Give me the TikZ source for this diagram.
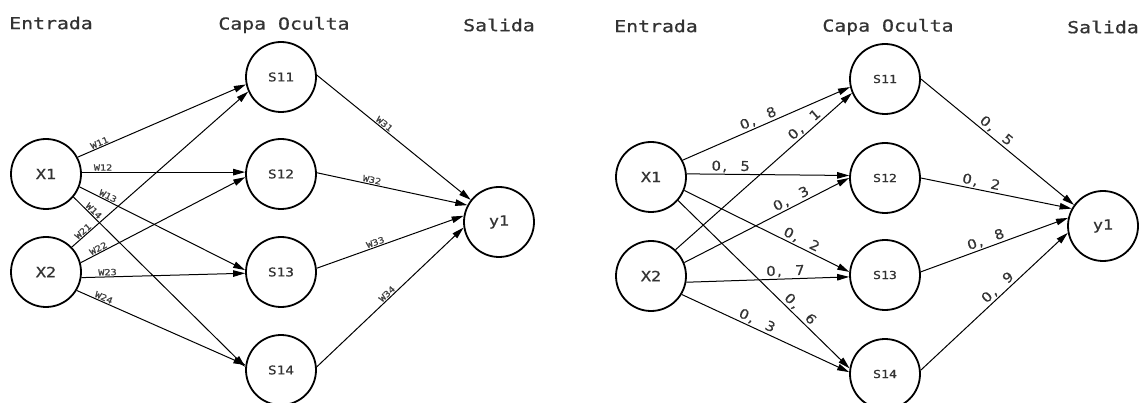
\documentclass[tikz,border=0pt]{standalone}
\usepackage{fontspec}
\newfontfamily\nnfont[FakeStretch=1.2,FakeBold=0.8]{DejaVu Sans Mono}
\newfontfamily\numfont[FakeStretch=1.1,FakeBold=0.6,LetterSpace=10,WordSpace=2.2]{DejaVu Sans}
\usetikzlibrary{arrows.meta}
\begin{document}
\begin{tikzpicture}[x=1pt,y=-1pt,
  neuron/.style={circle,draw=black,line width=1.8pt,minimum size=70pt,inner sep=0pt,text=black!80},
  big/.style={font=\nnfont\fontsize{14}{16}\selectfont},
  small/.style={font=\nnfont\fontsize{12}{14}\selectfont},
  smaller/.style={font=\nnfont\fontsize{11}{13}\selectfont},
  layer/.style={font=\nnfont\fontsize{16.5}{18}\selectfont,text=black!80,inner sep=0pt},
  conn/.style={line width=1pt,-{Triangle[length=12pt,width=6.5pt]}},
  wlbl/.style={sloped,above,inner sep=1pt,text=black!75,font=\nnfont\fontsize{8.5}{9}\selectfont},
  vlbl/.style={sloped,above,inner sep=1.5pt,text=black!80,font=\numfont\fontsize{13.5}{14}\selectfont},
]
\useasboundingbox (0,0) rectangle (1140,403);

% ---------- network with symbolic weights ----------
\node[layer] (lin)  at (51,23)  {Entrada};
\node[layer] (lhid) at (284,25) {Capa Oculta};
\node[layer] (lout) at (499,25) {Salida};

\node[neuron,big]   (lx1) at (46,174)  {X1};
\node[neuron,big]   (lx2) at (46,272)  {X2};
\node[neuron,small] (ls1) at (281,77)  {S11};
\node[neuron,small] (ls2) at (281,174) {S12};
\node[neuron,small] (ls3) at (281,272) {S13};
\node[neuron,small] (ls4) at (281,370) {S14};
\node[neuron,big]   (ly)  at (499,222) {y1};

\draw[conn] (lx1.28)  -- node[wlbl,pos=0.14]{W11} (ls1.192);
\draw[conn] (lx1.3)   -- node[wlbl,pos=0.13]{W12} (ls2.177);
\draw[conn] (lx1.339) -- node[wlbl,pos=0.16]{W13} (ls3.177);
\draw[conn] (lx1.320) -- node[wlbl,pos=0.10]{W14} (ls4.175);
\draw[conn] (lx2.44)  -- node[wlbl,pos=0.08]{W21} (ls1.204);
\draw[conn] (lx2.15)  -- node[wlbl,pos=0.12]{W22} (ls2.185);
\draw[conn] (lx2.351) -- node[wlbl,pos=0.16]{W23} (ls3.182);
\draw[conn] (lx2.329) -- node[wlbl,pos=0.15]{W24} (ls4.172);

\draw[conn] (ls1.3) -- node[wlbl,pos=0.42]{W31} (ly.142);
\draw[conn] (ls2.2) -- node[wlbl,pos=0.36]{W32} (ly.152);
\draw[conn] (ls3.6) -- node[wlbl,pos=0.41]{W33} (ly.170);
\draw[conn] (ls4.5) -- node[wlbl,pos=0.50]{W34} (ly.189);

% ---------- network with numeric weights ----------
\node[layer] (rin)  at (656,26)  {Entrada};
\node[layer] (rhid) at (888,27)  {Capa Oculta};
\node[layer] (rout) at (1103,27) {Salida};

\node[neuron,big]     (rx1) at (651,177)  {X1};
\node[neuron,big]     (rx2) at (651,276)  {X2};
\node[neuron,smaller] (rs1) at (885,79)   {S11};
\node[neuron,smaller] (rs2) at (885,178)  {S12};
\node[neuron,smaller] (rs3) at (885,275)  {S13};
\node[neuron,smaller] (rs4) at (885,374)  {S14};
\node[neuron,big]     (ry)  at (1103,226) {y1};

\draw[conn] (rx1.28)  -- node[vlbl,pos=0.47]{0, 8} (rs1.193);
\draw[conn] (rx2.47)  -- node[vlbl,pos=0.76]{0, 1} (rs1.203);
\draw[conn] (rx1.5)   -- node[vlbl,pos=0.27]{0, 5} (rs2.176);
\draw[conn] (rx2.22)  -- node[vlbl,pos=0.67]{0, 3} (rs2.180);
\draw[conn] (rx1.338) -- node[vlbl,pos=0.69]{0, 2} (rs3.175);
\draw[conn] (rx2.350) -- node[vlbl,pos=0.61]{0, 7} (rs3.183);
\draw[conn] (rx1.319) -- node[vlbl,pos=0.68]{0, 6} (rs4.171);
\draw[conn] (rx2.329) -- node[vlbl,pos=0.43]{0, 3} (rs4.177);

\draw[conn] (rs1.0) -- node[vlbl,pos=0.46]{0, 5} (ry.144);
\draw[conn] (rs2.0) -- node[vlbl,pos=0.39]{0, 2} (ry.151);
\draw[conn] (rs3.5) -- node[vlbl,pos=0.46]{0, 8} (ry.167);
\draw[conn] (rs4.6) -- node[vlbl,pos=0.56]{0, 9} (ry.191);
\end{tikzpicture}
\end{document}
